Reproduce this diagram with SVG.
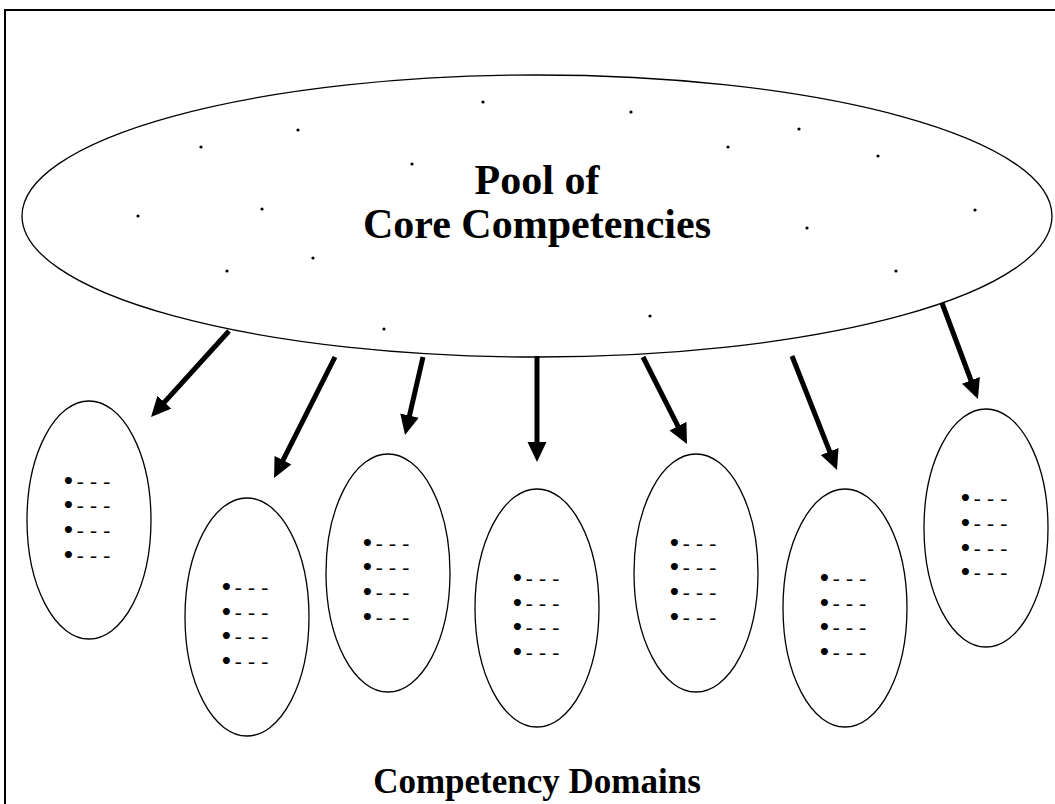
<svg xmlns="http://www.w3.org/2000/svg" width="1055" height="804" viewBox="0 0 1055 804">
<style>
.frame{fill:none;stroke:#000;stroke-width:2}
.pool{fill:#fff;stroke:#000;stroke-width:1.3}
.dom{fill:#fff;stroke:#000;stroke-width:1.3}
.dot{fill:#000}
.arr{stroke:#000;stroke-width:5;fill:none;marker-end:url(#ah)}
.title{font-family:"Liberation Serif","Times New Roman",serif;font-weight:bold;text-anchor:middle;fill:#000}
.b{font-family:"Liberation Serif","Times New Roman",serif;font-size:21px;word-spacing:1px;fill:#000}
.bl{font-family:"DejaVu Sans",sans-serif;font-size:20px;font-weight:bold}
</style>
<defs>
<marker id="ah" markerUnits="userSpaceOnUse" markerWidth="22" markerHeight="20" refX="5" refY="9.5" orient="auto">
<path d="M0,0 L20,9.5 L0,19 z" fill="#000"/>
</marker>
</defs>
<rect width="1055" height="804" fill="#fff"/>
<rect class="frame" x="5" y="10" width="1060" height="810"/>

<g id="pool">
<ellipse class="pool" cx="537" cy="216" rx="515" ry="141"/>
<g class="dot">
<circle cx="483" cy="102" r="1.6"/><circle cx="631" cy="112" r="1.6"/><circle cx="298" cy="130" r="1.6"/>
<circle cx="799" cy="129" r="1.6"/><circle cx="201" cy="147" r="1.6"/><circle cx="728" cy="147" r="1.6"/>
<circle cx="878" cy="156" r="1.6"/><circle cx="412" cy="164" r="1.6"/><circle cx="138" cy="216" r="1.6"/>
<circle cx="262" cy="209" r="1.6"/><circle cx="975" cy="210" r="1.6"/><circle cx="807" cy="228" r="1.6"/>
<circle cx="313" cy="258" r="1.6"/><circle cx="227" cy="271" r="1.6"/><circle cx="896" cy="271" r="1.6"/>
<circle cx="650" cy="316" r="1.6"/><circle cx="384" cy="329" r="1.6"/>
</g>
<text class="title" x="537" y="194" font-size="42">Pool of</text>
<text class="title" x="537" y="238" font-size="42">Core Competencies</text>
</g>

<g id="connectors">
<line class="arr" x1="229" y1="331" x2="161.1" y2="405.9"/>
<line class="arr" x1="335" y1="357" x2="280.8" y2="464.6"/>
<line class="arr" x1="423" y1="357" x2="408.4" y2="420.4"/>
<line class="arr" x1="537" y1="356" x2="537" y2="447"/>
<line class="arr" x1="643" y1="357" x2="680.2" y2="430.6"/>
<line class="arr" x1="792" y1="356" x2="831.5" y2="456.1"/>
<line class="arr" x1="942" y1="303" x2="972.7" y2="385"/>
</g>

<g id="domain1">
<ellipse class="dom" cx="89" cy="520" rx="62" ry="119"/>
<text class="b" x="62" y="488"><tspan class="bl">•</tspan><tspan dx="2">- - -</tspan></text>
<text class="b" x="62" y="512"><tspan class="bl">•</tspan><tspan dx="2">- - -</tspan></text>
<text class="b" x="62" y="537"><tspan class="bl">•</tspan><tspan dx="2">- - -</tspan></text>
<text class="b" x="62" y="562"><tspan class="bl">•</tspan><tspan dx="2">- - -</tspan></text>
</g>
<g id="domain2">
<ellipse class="dom" cx="247" cy="617" rx="62" ry="119"/>
<text class="b" x="220" y="594"><tspan class="bl">•</tspan><tspan dx="2">- - -</tspan></text>
<text class="b" x="220" y="619"><tspan class="bl">•</tspan><tspan dx="2">- - -</tspan></text>
<text class="b" x="220" y="643"><tspan class="bl">•</tspan><tspan dx="2">- - -</tspan></text>
<text class="b" x="220" y="668"><tspan class="bl">•</tspan><tspan dx="2">- - -</tspan></text>
</g>
<g id="domain3">
<ellipse class="dom" cx="388" cy="573" rx="62" ry="119"/>
<text class="b" x="361" y="550"><tspan class="bl">•</tspan><tspan dx="2">- - -</tspan></text>
<text class="b" x="361" y="574"><tspan class="bl">•</tspan><tspan dx="2">- - -</tspan></text>
<text class="b" x="361" y="599"><tspan class="bl">•</tspan><tspan dx="2">- - -</tspan></text>
<text class="b" x="361" y="624"><tspan class="bl">•</tspan><tspan dx="2">- - -</tspan></text>
</g>
<g id="domain4">
<ellipse class="dom" cx="537" cy="608" rx="62" ry="119"/>
<text class="b" x="511" y="585"><tspan class="bl">•</tspan><tspan dx="2">- - -</tspan></text>
<text class="b" x="511" y="610"><tspan class="bl">•</tspan><tspan dx="2">- - -</tspan></text>
<text class="b" x="511" y="634"><tspan class="bl">•</tspan><tspan dx="2">- - -</tspan></text>
<text class="b" x="511" y="659"><tspan class="bl">•</tspan><tspan dx="2">- - -</tspan></text>
</g>
<g id="domain5">
<ellipse class="dom" cx="696" cy="573" rx="62" ry="119"/>
<text class="b" x="668" y="550"><tspan class="bl">•</tspan><tspan dx="2">- - -</tspan></text>
<text class="b" x="668" y="574"><tspan class="bl">•</tspan><tspan dx="2">- - -</tspan></text>
<text class="b" x="668" y="599"><tspan class="bl">•</tspan><tspan dx="2">- - -</tspan></text>
<text class="b" x="668" y="624"><tspan class="bl">•</tspan><tspan dx="2">- - -</tspan></text>
</g>
<g id="domain6">
<ellipse class="dom" cx="845" cy="608" rx="62" ry="119"/>
<text class="b" x="818" y="585"><tspan class="bl">•</tspan><tspan dx="2">- - -</tspan></text>
<text class="b" x="818" y="610"><tspan class="bl">•</tspan><tspan dx="2">- - -</tspan></text>
<text class="b" x="818" y="634"><tspan class="bl">•</tspan><tspan dx="2">- - -</tspan></text>
<text class="b" x="818" y="659"><tspan class="bl">•</tspan><tspan dx="2">- - -</tspan></text>
</g>
<g id="domain7">
<ellipse class="dom" cx="986" cy="528" rx="62" ry="119"/>
<text class="b" x="959" y="505"><tspan class="bl">•</tspan><tspan dx="2">- - -</tspan></text>
<text class="b" x="959" y="530"><tspan class="bl">•</tspan><tspan dx="2">- - -</tspan></text>
<text class="b" x="959" y="555"><tspan class="bl">•</tspan><tspan dx="2">- - -</tspan></text>
<text class="b" x="959" y="579"><tspan class="bl">•</tspan><tspan dx="2">- - -</tspan></text>
</g>

<text id="domains-label" class="title" x="537" y="793" font-size="35">Competency Domains</text>
</svg>
